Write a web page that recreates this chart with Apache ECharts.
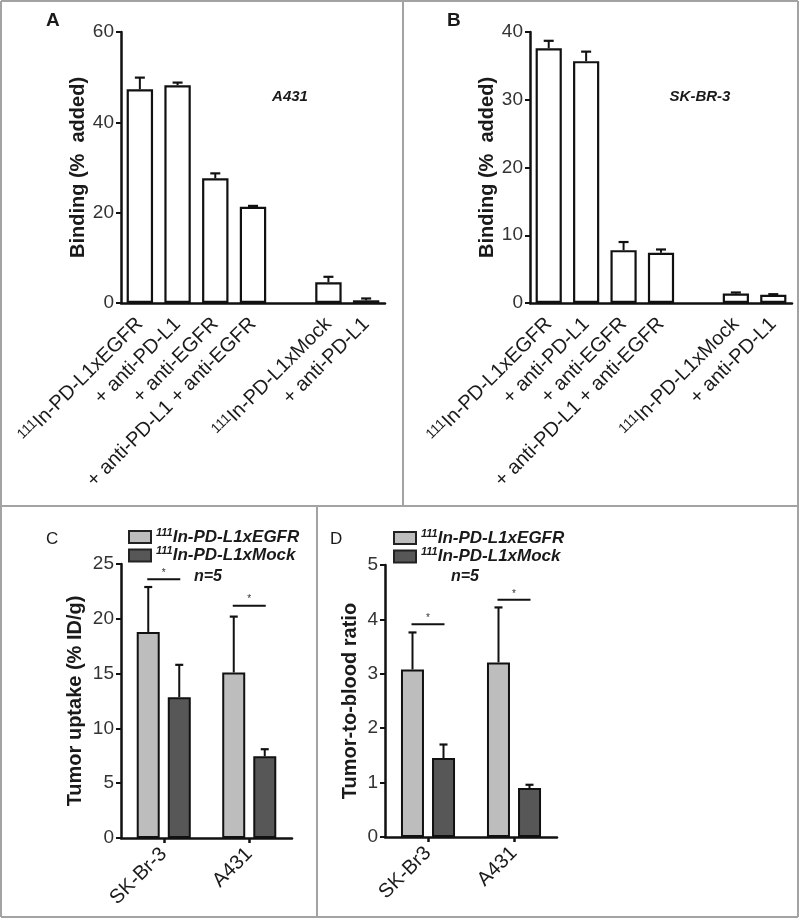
<!DOCTYPE html>
<html><head><meta charset="utf-8">
<script src="https://cdn.jsdelivr.net/npm/echarts@6/dist/echarts.min.js"></script>
<style>html,body{margin:0;padding:0;background:#fff}#c{width:800px;height:920px}</style>
</head><body><div id="c"></div>
<script>
// ---------- data ----------
const catsAB = ['111In-PD-L1xEGFR', '+ anti-PD-L1', '+ anti-EGFR', '+ anti-PD-L1 + anti-EGFR', '', '111In-PD-L1xMock', '+ anti-PD-L1'];
const meanA = [47.3, 48.2, 27.6, 21.3, null, 4.6, 0.6];
const sdA   = [2.6, 0.6, 1.1, 0.2, null, 1.2, 0.4];
const meanB = [37.6, 35.7, 7.8, 7.4, null, 1.4, 1.2];
const sdB   = [1.1, 1.4, 1.2, 0.5, null, 0.15, 0.1];
const catsC = ['SK-Br-3', 'A431'];
const catsD = ['SK-Br3', 'A431'];
const seriesNames = ['111In-PD-L1xEGFR', '111In-PD-L1xMock'];
const uptakeEGFR = [18.8, 15.1];
const uptakeEGFRsd = [4.1, 5.1];
const uptakeMock = [12.85, 7.45];
const uptakeMocksd = [2.95, 0.65];
const ratioEGFR = [3.08, 3.21];
const ratioEGFRsd = [0.68, 1.01];
const ratioMock = [1.45, 0.9];
const ratioMocksd = [0.25, 0.06];
const sigC = [23.6, 21.2];
const sigD = [3.91, 4.36];
const ticksA = {min: 0, max: 60, interval: 20};
const ticksB = {min: 0, max: 40, interval: 10};
const ticksC = {min: 0, max: 25, interval: 5};
const ticksD = {min: 0, max: 5, interval: 1};

// ---------- styles ----------
const FONT = 'Liberation Sans, Arial, sans-serif';
const LIGHT = '#bdbdbd', DARK = '#575757';
const chart = echarts.init(document.getElementById('c'));

function supFmt(v) {
  if (v.indexOf('111') === 0) return '{s|111}{n|' + v.slice(3) + '}';
  return '{n|' + v + '}';
}
function errSeries(xi, yi, mean, sd, offset, cap) {
  const data = [];
  mean.forEach((m, i) => { if (m != null) data.push([i, m, sd[i]]); });
  return {
    type: 'custom', xAxisIndex: xi, yAxisIndex: yi, z: 5, silent: true,
    data: data,
    renderItem: function (params, api) {
      const x = api.value(0), m = api.value(1), s = api.value(2);
      const p0 = api.coord([x, m]);
      const p1 = api.coord([x, m + s]);
      const cx = p0[0] + offset;
      return {type: 'group', children: [
        {type: 'line', shape: {x1: cx, y1: p0[1], x2: cx, y2: p1[1]}, style: {stroke: '#111', lineWidth: 2}},
        {type: 'line', shape: {x1: cx - cap / 2, y1: p1[1], x2: cx + cap / 2, y2: p1[1]}, style: {stroke: '#111', lineWidth: 2.2}}
      ]};
    }
  };
}
function sigSeries(xi, yi, vals, half) {
  return {
    type: 'custom', xAxisIndex: xi, yAxisIndex: yi, z: 6, silent: true,
    data: vals.map((v, i) => [i, v]),
    renderItem: function (params, api) {
      const p = api.coord([api.value(0), api.value(1)]);
      return {type: 'group', children: [
        {type: 'line', shape: {x1: p[0] - half, y1: p[1], x2: p[0] + half, y2: p[1]}, style: {stroke: '#111', lineWidth: 2}},
        {type: 'text', x: p[0], y: p[1] - 1, style: {text: '*', fill: '#333', align: 'center', verticalAlign: 'bottom', font: '10px ' + FONT}}
      ]};
    }
  };
}
function yAx(gi, t, name, gap) {
  return {
    type: 'value', gridIndex: gi, min: t.min, max: t.max, interval: t.interval,
    name: name, nameLocation: 'middle', nameGap: gap, nameRotate: 90,
    nameTextStyle: {fontFamily: FONT, fontSize: 20, fontWeight: 'bold', color: '#1a1a1a'},
    axisLine: {show: true, lineStyle: {color: '#111', width: 2.5}},
    axisTick: {show: true, length: 5, lineStyle: {color: '#111', width: 2}},
    axisLabel: {fontFamily: FONT, fontSize: 19, color: '#333', margin: 7},
    splitLine: {show: false}
  };
}
function xAxAB(gi) {
  return {
    type: 'category', gridIndex: gi, data: catsAB, offset: 7,
    axisLine: {show: true, lineStyle: {color: '#111', width: 2.5}},
    axisTick: {show: false},
    axisLabel: {
      interval: 0, rotate: 45, margin: 11, formatter: supFmt,
      rich: {
        s: {fontFamily: FONT, fontSize: 14, color: '#1a1a1a', verticalAlign: 'top', padding: [0, 0, 6, 0]},
        n: {fontFamily: FONT, fontSize: 20, color: '#1a1a1a'}
      }
    }
  };
}
function xAxCD(gi, cats) {
  return {
    type: 'category', gridIndex: gi, data: cats,
    axisLine: {show: true, lineStyle: {color: '#111', width: 2.5}},
    axisTick: {show: true, alignWithLabel: true, length: 5, lineStyle: {color: '#111', width: 2.5}},
    axisLabel: {interval: 0, rotate: 45, margin: 13, fontFamily: FONT, fontSize: 20, color: '#1a1a1a'}
  };
}
const openBar = (xi, yi, data) => ({
  type: 'bar', xAxisIndex: xi, yAxisIndex: yi, data: data.map(v => v == null ? '-' : v),
  barCategoryGap: '30%', silent: true,
  itemStyle: {color: '#fff', borderColor: '#111', borderWidth: 2.2}
});
const filledBar = (xi, yi, name, color, data) => ({
  type: 'bar', name: name, xAxisIndex: xi, yAxisIndex: yi, data: data,
  barWidth: 23, barGap: '35%', silent: true,
  itemStyle: {color: color, borderColor: '#111', borderWidth: 2}
});
const legendFmt = v => '{s|111}{n|' + v.slice(3) + '}';
const legendRich = {
  s: {fontFamily: FONT, fontSize: 11, fontStyle: 'italic', fontWeight: 'bold', color: '#1a1a1a', verticalAlign: 'top', padding: [0, 0, 5, 0]},
  n: {fontFamily: FONT, fontSize: 17, lineHeight: 20, fontStyle: 'italic', fontWeight: 'bold', color: '#1a1a1a'}
};
const mkLegend = (left, top) => ({
  left: left, top: top, orient: 'vertical', itemWidth: 22, itemHeight: 12, itemGap: 0,
  icon: 'rect', selectedMode: false, data: seriesNames, padding: 0,
  itemStyle: {borderColor: '#222', borderWidth: 2},
  formatter: legendFmt, textStyle: {rich: legendRich}
});
const txt = (x, y, s, size, weight, style, align) => ({
  type: 'text', x: x, y: y, silent: true,
  style: {text: s, fontFamily: FONT, fontSize: size, fontWeight: weight || 'normal', fontStyle: style || 'normal', fill: '#1a1a1a', align: align || 'left', verticalAlign: 'middle'}
});
const ln = (x1, y1, x2, y2) => ({type: 'line', silent: true, shape: {x1: x1, y1: y1, x2: x2, y2: y2}, style: {stroke: '#a3a3a3', lineWidth: 2}});

const option = {
  animation: false,
  backgroundColor: '#fff',
  grid: [
    {left: 121, top: 32, width: 264, height: 271},
    {left: 530, top: 32, width: 262, height: 271},
    {left: 121, top: 564, width: 171, height: 274},
    {left: 385, top: 565, width: 172, height: 272}
  ],
  xAxis: [xAxAB(0), xAxAB(1), xAxCD(2, catsC), xAxCD(3, catsD)],
  yAxis: [
    yAx(0, ticksA, 'Binding (%  added)', 33),
    yAx(1, ticksB, 'Binding (%  added)', 33),
    yAx(2, ticksC, 'Tumor uptake (% ID/g)', 36),
    yAx(3, ticksD, 'Tumor-to-blood ratio', 25)
  ],
  legend: [mkLegend(128, 527), mkLegend(393, 528)],
  series: [
    openBar(0, 0, meanA), errSeries(0, 0, meanA, sdA, 0, 10),
    openBar(1, 1, meanB), errSeries(1, 1, meanB, sdB, 0, 10),
    filledBar(2, 2, seriesNames[0], LIGHT, uptakeEGFR),
    filledBar(2, 2, seriesNames[1], DARK, uptakeMock),
    errSeries(2, 2, uptakeEGFR, uptakeEGFRsd, -15.5, 8),
    errSeries(2, 2, uptakeMock, uptakeMocksd, 15.5, 8),
    sigSeries(2, 2, sigC, 16.5),
    filledBar(3, 3, seriesNames[0], LIGHT, ratioEGFR),
    filledBar(3, 3, seriesNames[1], DARK, ratioMock),
    errSeries(3, 3, ratioEGFR, ratioEGFRsd, -15.5, 8),
    errSeries(3, 3, ratioMock, ratioMocksd, 15.5, 8),
    sigSeries(3, 3, sigD, 16.5)
  ],
  graphic: [
    ln(1, 1, 798, 1), ln(1, 1, 1, 917), ln(798, 1, 798, 917), ln(1, 917, 798, 917),
    ln(1, 506, 798, 506), ln(403, 1, 403, 506), ln(317, 506, 317, 917),
    txt(46, 21, 'A', 19, 'bold'),
    txt(447, 21, 'B', 19, 'bold'),
    txt(46, 539, 'C', 17),
    txt(330, 539, 'D', 17),
    txt(290, 97, 'A431', 15, 'bold', 'italic', 'center'),
    txt(700, 97, 'SK-BR-3', 15, 'bold', 'italic', 'center'),
    txt(208, 577, 'n=5', 16, 'bold', 'italic', 'center'),
    txt(465, 577, 'n=5', 16, 'bold', 'italic', 'center')
  ]
};
chart.setOption(option);
</script></body></html>
